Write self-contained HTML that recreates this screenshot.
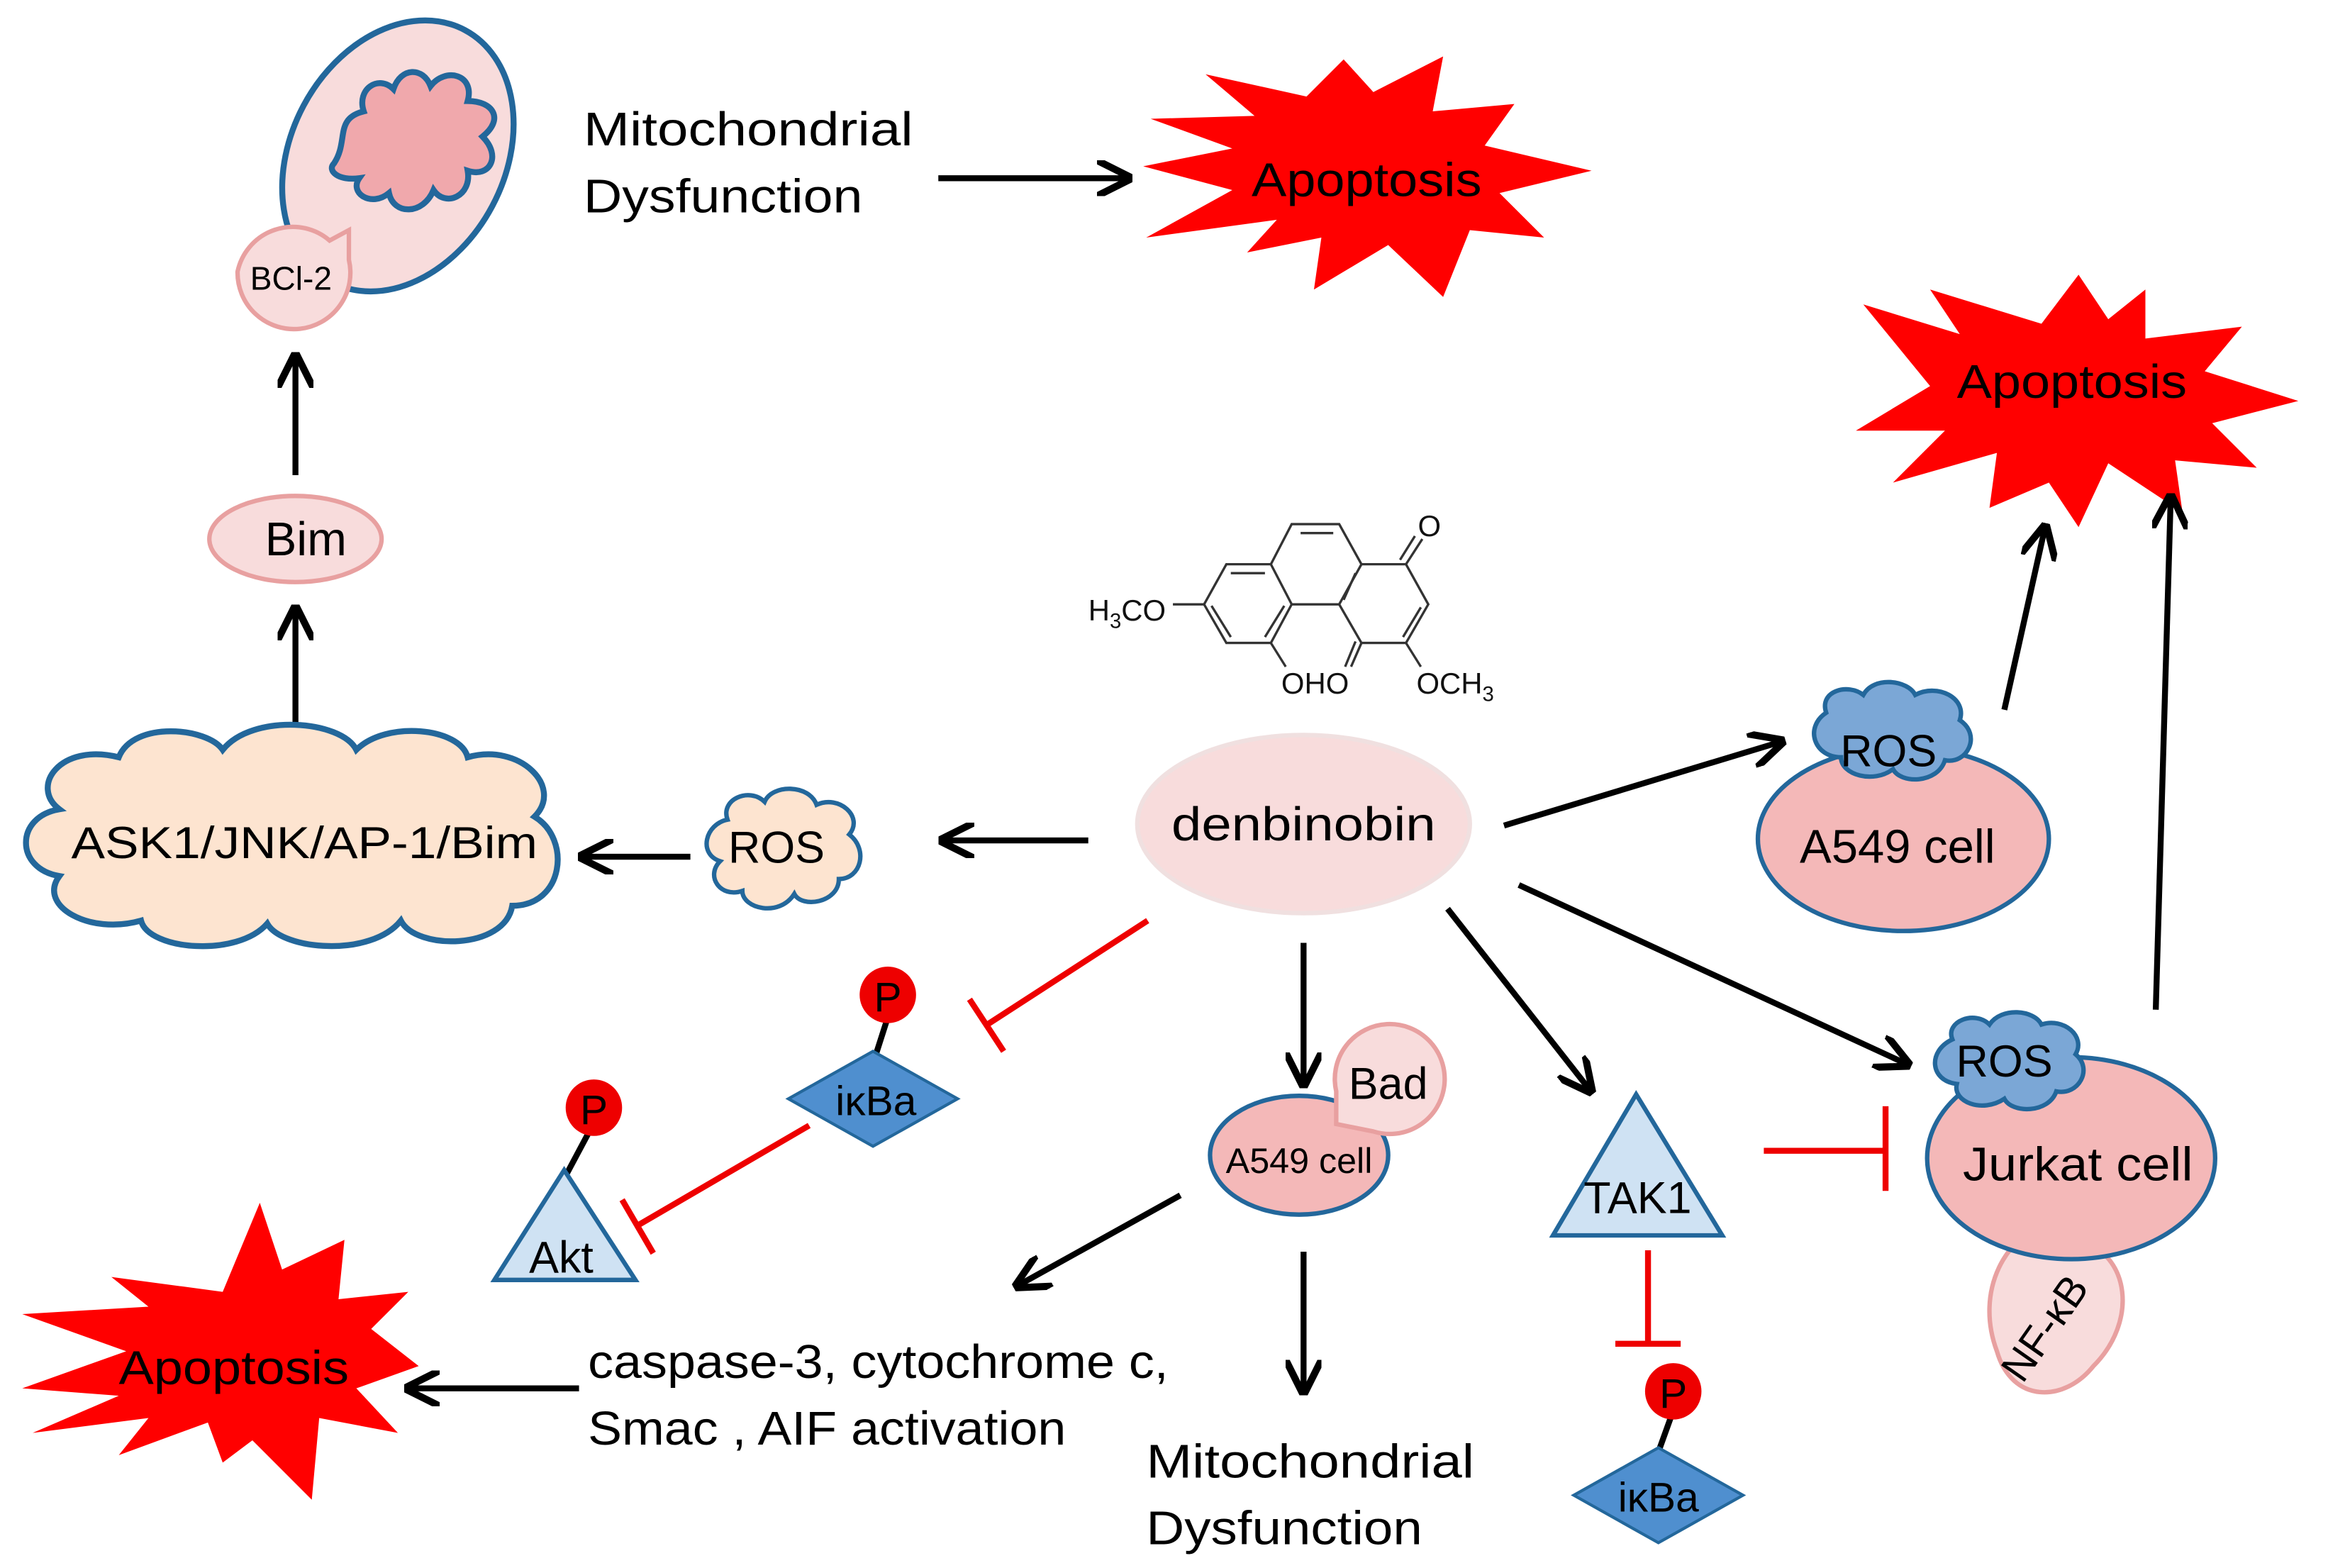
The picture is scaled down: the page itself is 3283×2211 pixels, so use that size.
<!DOCTYPE html>
<html><head><meta charset="utf-8"><style>
html,body{margin:0;padding:0;background:#fff}
svg{display:block}
text{font-family:"Liberation Sans","DejaVu Sans",sans-serif}
</style></head><body>
<svg width="3283" height="2211" viewBox="0 0 1568 1056" xmlns="http://www.w3.org/2000/svg">
<defs>
<marker id="ar" viewBox="0 0 10 10" refX="8" refY="5" markerWidth="6" markerHeight="6" orient="auto"><path d="M0,0 L10,5 L0,10" fill="none" stroke="#000" stroke-width="2"/></marker>
</defs>
<rect width="1568" height="1056" fill="#fff"/>

<!-- mitochondrion -->
<ellipse cx="268" cy="105" rx="72" ry="96" transform="rotate(28 268 105)" fill="#f8dcdc" stroke="#23679b" stroke-width="4"/>
<path d="M225,110 C235,95 225,80 245,75 C240,60 255,50 265,60 C270,45 285,45 290,58 C300,45 320,50 315,68 C332,68 340,80 325,92 C338,105 330,120 315,115 C318,132 300,140 292,128 C285,145 265,145 262,130 C250,140 235,130 242,120 C228,122 220,115 225,110 Z" fill="#f0a8ac" stroke="#23679b" stroke-width="4"/>
<path d="M160,183 A38,38 0 1 0 235,175 L235,155 L222,162 A38,38 0 0 0 160,183Z" fill="#f8dcdc" stroke="#e8a0a0" stroke-width="3"/>
<text x="196" y="195" font-size="22" text-anchor="middle">BCl-2</text>

<text x="393" y="98" font-size="32" textLength="222" lengthAdjust="spacingAndGlyphs">Mitochondrial</text>
<text x="393" y="143" font-size="32" textLength="188" lengthAdjust="spacingAndGlyphs">Dysfunction</text>
<line x1="632" y1="120" x2="758" y2="120" stroke="#000" stroke-width="4" marker-end="url(#ar)"/>

<!-- starbursts -->
<polygon points="775,80 845,78 812,50 880,65 905,40 925,62 972,38 965,75 1020,70 1000,98 1072,115 1010,130 1040,160 990,155 972,200 935,165 885,195 890,160 840,170 860,148 772,160 830,128 770,112 830,100" fill="#f00"/>
<text x="843" y="132" font-size="32" textLength="155" lengthAdjust="spacingAndGlyphs">Apoptosis</text>
<polygon points="1255,205 1320,225 1300,195 1375,218 1400,185 1420,215 1445,195 1445,228 1510,220 1485,250 1548,270 1490,285 1520,315 1465,310 1470,345 1420,312 1400,355 1380,325 1340,342 1345,305 1275,325 1310,290 1250,290 1300,260" fill="#f00"/>
<text x="1318" y="268" font-size="32" textLength="155" lengthAdjust="spacingAndGlyphs">Apoptosis</text>
<polygon points="15,885 100,880 75,860 150,870 175,810 190,855 232,835 228,875 275,870 250,895 282,920 240,935 268,965 215,955 210,1010 170,970 150,985 140,958 80,980 100,955 22,965 80,940 15,935 85,910" fill="#f00"/>
<text x="80" y="932" font-size="32" textLength="155" lengthAdjust="spacingAndGlyphs">Apoptosis</text>

<!-- Bim -->
<line x1="199" y1="320" x2="199" y2="242" stroke="#000" stroke-width="4" marker-end="url(#ar)"/>
<ellipse cx="199" cy="363" rx="58" ry="29" fill="#f8dcdc" stroke="#e8a0a0" stroke-width="3"/>
<text x="206" y="374" font-size="32" text-anchor="middle">Bim</text>
<line x1="199" y1="490" x2="199" y2="412" stroke="#000" stroke-width="4" marker-end="url(#ar)"/>

<!-- ASK1 cloud -->
<path d="M40,545 C20,530 40,500 80,510 C90,485 140,490 150,505 C170,480 230,485 240,505 C260,485 310,490 315,510 C350,500 380,530 360,550 C385,565 380,610 345,610 C340,640 280,640 270,620 C250,645 190,640 180,622 C160,645 100,640 95,620 C60,630 25,610 40,590 C10,585 10,550 40,545Z" fill="#fde4d0" stroke="#23679b" stroke-width="4"/>
<text x="48" y="578" font-size="30" textLength="314" lengthAdjust="spacingAndGlyphs">ASK1/JNK/AP-1/Bim</text>
<line x1="465" y1="577" x2="394" y2="577" stroke="#000" stroke-width="4" marker-end="url(#ar)"/>
<path d="M490,552 C485,538 505,530 515,540 C520,528 545,528 550,542 C565,535 582,550 572,562 C585,572 580,592 565,592 C565,608 540,612 535,602 C525,618 500,612 500,600 C485,605 475,590 485,580 C470,575 475,555 490,552Z" fill="#fde4d0" stroke="#23679b" stroke-width="3"/>
<text x="523" y="581" font-size="30" text-anchor="middle">ROS</text>
<line x1="733" y1="566" x2="637" y2="566" stroke="#000" stroke-width="4" marker-end="url(#ar)"/>

<!-- chemical structure -->
<g stroke="#333" stroke-width="1.6" fill="none">
<polyline points="790,407 811,407 826,380 856,380 870,407 856,433 826,433 811,407"/>
<line x1="829" y1="386" x2="852" y2="386"/><line x1="816" y1="408" x2="829" y2="429"/><line x1="865" y1="408" x2="852" y2="429"/>
<polyline points="856,380 870,353 902,353 917,380 902,407 870,407"/>
<line x1="876" y1="359" x2="898" y2="359"/>
<polyline points="917,380 947,380 962,407 947,433 917,433 902,407"/>
<line x1="913" y1="386" x2="905" y2="404"/><line x1="957" y1="409" x2="945" y2="429"/>
<line x1="947" y1="380" x2="958" y2="363"/><line x1="943" y1="377" x2="953" y2="361"/>
<line x1="856" y1="433" x2="866" y2="449"/>
<line x1="917" y1="433" x2="910" y2="449"/><line x1="913" y1="432" x2="906" y2="449"/>
<line x1="947" y1="433" x2="957" y2="449"/>
</g>
<g font-size="20" fill="#111">
<text x="955" y="361">O</text>
<text x="733" y="418">H<tspan font-size="14" dy="5">3</tspan><tspan dy="-5">CO</tspan></text>
<text x="863" y="467">OHO</text>
<text x="954" y="467">OCH<tspan font-size="14" dy="5">3</tspan></text>
</g>

<!-- denbinobin -->
<ellipse cx="878" cy="555" rx="112" ry="60" fill="#f8dcdc" stroke="#f0e0e0" stroke-width="3"/>
<text x="789" y="566" font-size="32" textLength="178" lengthAdjust="spacingAndGlyphs">denbinobin</text>

<!-- right A549 -->
<line x1="1013" y1="556" x2="1198" y2="500" stroke="#000" stroke-width="4" marker-end="url(#ar)"/>
<ellipse cx="1282" cy="565" rx="98" ry="62" fill="#f4b8b8" stroke="#23679b" stroke-width="3"/>
<path d="M1230,480 C1225,465 1245,460 1255,468 C1262,455 1285,458 1290,468 C1305,460 1325,470 1320,485 C1335,495 1325,515 1310,512 C1305,528 1280,528 1275,518 C1262,528 1240,522 1240,510 C1222,510 1215,490 1230,480Z" fill="#7ba7d6" stroke="#23679b" stroke-width="3"/>
<text x="1272" y="516" font-size="30" text-anchor="middle">ROS</text>
<text x="1278" y="581" font-size="32" text-anchor="middle">A549 cell</text>
<line x1="1350" y1="478" x2="1377" y2="357" stroke="#000" stroke-width="4" marker-end="url(#ar)"/>
<line x1="1452" y1="680" x2="1462" y2="337" stroke="#000" stroke-width="4" marker-end="url(#ar)"/>

<!-- Jurkat -->
<line x1="1023" y1="596" x2="1283" y2="716" stroke="#000" stroke-width="4" marker-end="url(#ar)"/>
<path d="M1345,910 C1330,870 1350,830 1385,822 L1400,818 L1400,835 C1435,845 1440,890 1410,920 C1390,945 1355,945 1345,910Z" fill="#f8dcdc" stroke="#e8a0a0" stroke-width="3"/>
<text x="1385" y="900" font-size="28" text-anchor="middle" transform="rotate(-55 1385 900)">NF-κB</text>
<ellipse cx="1395" cy="780" rx="97" ry="68" fill="#f4b8b8" stroke="#23679b" stroke-width="3"/>
<path d="M1315,700 C1310,688 1330,680 1340,690 C1348,678 1370,680 1375,690 C1390,685 1405,698 1398,710 C1410,720 1400,738 1385,735 C1380,750 1355,750 1350,740 C1335,750 1315,742 1318,730 C1300,728 1298,708 1315,700Z" fill="#7ba7d6" stroke="#23679b" stroke-width="3"/>
<text x="1350" y="725" font-size="30" text-anchor="middle">ROS</text>
<text x="1322" y="795" font-size="32" textLength="155" lengthAdjust="spacingAndGlyphs">Jurkat cell</text>

<!-- TAK1 -->
<line x1="975" y1="612" x2="1070" y2="733" stroke="#000" stroke-width="4" marker-end="url(#ar)"/>
<polygon points="1102,737 1046,832 1160,832" fill="#cfe2f3" stroke="#23679b" stroke-width="3"/>
<text x="1103" y="817" font-size="30" text-anchor="middle">TAK1</text>
<g stroke="#e00" stroke-width="4">
<line x1="1188" y1="775" x2="1270" y2="775"/><line x1="1270" y1="745" x2="1270" y2="802"/>
<line x1="1110" y1="842" x2="1110" y2="905"/><line x1="1088" y1="905" x2="1132" y2="905"/>
<line x1="773" y1="620" x2="665" y2="690"/><line x1="653" y1="673" x2="676" y2="708"/>
<line x1="545" y1="758" x2="430" y2="825"/><line x1="419" y1="808" x2="440" y2="844"/>
</g>
<line x1="1127" y1="950" x2="1118" y2="975" stroke="#000" stroke-width="4"/>
<circle cx="1127" cy="937" r="19" fill="#e00"/>
<text x="1127" y="948" font-size="28" text-anchor="middle">P</text>
<polygon points="1117,975 1174,1007 1117,1039 1060,1007" fill="#4f8fcf" stroke="#23679b" stroke-width="2"/>
<text x="1117" y="1018" font-size="28" text-anchor="middle">iκBa</text>

<!-- middle A549 -->
<line x1="878" y1="635" x2="878" y2="728" stroke="#000" stroke-width="4" marker-end="url(#ar)"/>
<ellipse cx="875" cy="778" rx="60" ry="40" fill="#f4b8b8" stroke="#23679b" stroke-width="3"/>
<path d="M900,757 L900,735 A37,37 0 1 1 925,762 Z" fill="#f8dcdc" stroke="#e8a0a0" stroke-width="3"/>
<text x="935" y="740" font-size="30" text-anchor="middle">Bad</text>
<text x="875" y="790" font-size="24" text-anchor="middle">A549 cell</text>
<line x1="878" y1="843" x2="878" y2="935" stroke="#000" stroke-width="4" marker-end="url(#ar)"/>
<text x="772" y="995" font-size="32" textLength="221" lengthAdjust="spacingAndGlyphs">Mitochondrial</text>
<text x="772" y="1040" font-size="32" textLength="186" lengthAdjust="spacingAndGlyphs">Dysfunction</text>
<line x1="795" y1="805" x2="687" y2="865" stroke="#000" stroke-width="4" marker-end="url(#ar)"/>
<text x="396" y="928" font-size="32" textLength="391" lengthAdjust="spacingAndGlyphs">caspase-3, cytochrome c,</text>
<text x="396" y="973" font-size="32" textLength="322" lengthAdjust="spacingAndGlyphs">Smac , AIF activation</text>
<line x1="390" y1="935" x2="277" y2="935" stroke="#000" stroke-width="4" marker-end="url(#ar)"/>

<!-- iκBa left -->
<line x1="598" y1="685" x2="590" y2="710" stroke="#000" stroke-width="4"/>
<circle cx="598" cy="670" r="19" fill="#e00"/>
<text x="598" y="681" font-size="28" text-anchor="middle">P</text>
<polygon points="588,708 645,740 588,772 531,740" fill="#4f8fcf" stroke="#23679b" stroke-width="2"/>
<text x="590" y="751" font-size="28" text-anchor="middle">iκBa</text>

<!-- Akt -->
<line x1="398" y1="760" x2="382" y2="790" stroke="#000" stroke-width="4"/>
<circle cx="400" cy="746" r="19" fill="#e00"/>
<text x="400" y="757" font-size="28" text-anchor="middle">P</text>
<polygon points="380,788 333,862 428,862" fill="#cfe2f3" stroke="#23679b" stroke-width="3"/>
<text x="378" y="857" font-size="30" text-anchor="middle">Akt</text>
</svg>
</body></html>
